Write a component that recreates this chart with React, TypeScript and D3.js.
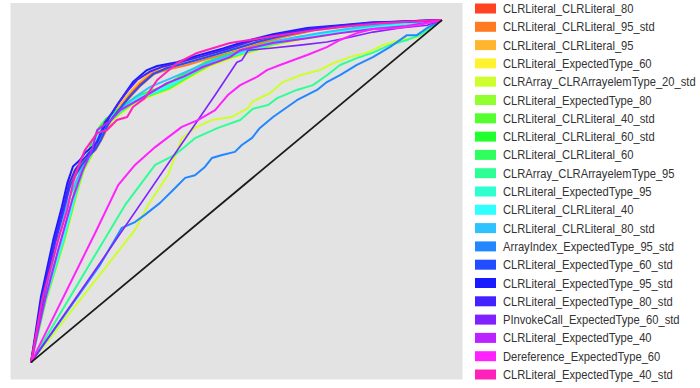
import React from 'react';
import * as d3 from 'd3';

// legend order = drawing order
const seriesNames = [
  'CLRLiteral_CLRLiteral_80',
  'CLRLiteral_CLRLiteral_95_std',
  'CLRLiteral_CLRLiteral_95',
  'CLRLiteral_ExpectedType_60',
  'CLRArray_CLRArrayelemType_20_std',
  'CLRLiteral_ExpectedType_80',
  'CLRLiteral_CLRLiteral_40_std',
  'CLRLiteral_CLRLiteral_60_std',
  'CLRLiteral_CLRLiteral_60',
  'CLRArray_CLRArrayelemType_95',
  'CLRLiteral_ExpectedType_95',
  'CLRLiteral_CLRLiteral_40',
  'CLRLiteral_CLRLiteral_80_std',
  'ArrayIndex_ExpectedType_95_std',
  'CLRLiteral_ExpectedType_60_std',
  'CLRLiteral_ExpectedType_95_std',
  'CLRLiteral_ExpectedType_80_std',
  'PInvokeCall_ExpectedType_60_std',
  'CLRLiteral_ExpectedType_40',
  'Dereference_ExpectedType_60',
  'CLRLiteral_ExpectedType_40_std',
];

const seriesColors = [
  '#FF4222', '#FF7B22', '#FFB62E', '#FFF22E', '#CDFF2E', '#92FF2E', '#55FF2E',
  '#22FF2E', '#2EFF5E', '#2EFF94', '#2EFFCF', '#2EFFFF', '#2EC2FF', '#2287FF',
  '#224CFF', '#1A1AFF', '#4422FF', '#7F22FF', '#BA22FF', '#FF22FF', '#FF22BA',
];

// [false positive rate, true positive rate]
const clrLit80 = [[0,0],[.028,.186],[.056,.348],[.078,.452],[.092,.518],[.107,.560],[.122,.582],[.138,.603],[.156,.625],[.170,.655],[.185,.695],[.202,.722],[.219,.752],[.241,.785],[.265,.815],[.297,.848],[.331,.862],[.375,.875],[.423,.892],[.484,.912],[.550,.936],[.606,.954],[.686,.973],[.776,.985],[.856,.993],[.950,.998],[1,1]];
const clrLit95std = [[0,0],[.029,.184],[.057,.346],[.079,.449],[.093,.515],[.108,.556],[.123,.580],[.140,.600],[.158,.622],[.172,.652],[.188,.690],[.205,.718],[.222,.748],[.245,.780],[.268,.810],[.300,.843],[.335,.856],[.380,.869],[.428,.886],[.489,.906],[.555,.931],[.611,.950],[.690,.970],[.780,.983],[.860,.992],[.952,.997],[1,1]];
const clrLit95 = [[0,0],[.027,.187],[.055,.350],[.077,.454],[.091,.520],[.106,.562],[.121,.584],[.137,.605],[.155,.627],[.169,.658],[.184,.698],[.201,.725],[.218,.755],[.240,.788],[.263,.818],[.295,.850],[.329,.864],[.373,.877],[.421,.894],[.482,.914],[.548,.938],[.604,.955],[.684,.974],[.774,.986],[.854,.994],[.949,.998],[1,1]];
const expType60 = [[0,0],[.036,.181],[.081,.352],[.115,.506],[.130,.565],[.147,.600],[.156,.634],[.173,.674],[.191,.698],[.215,.724],[.246,.752],[.272,.769],[.338,.798],[.394,.838],[.435,.865],[.491,.890],[.589,.926],[.662,.945],[.759,.963],[.838,.976],[.920,.989],[1,1]];
const arr20std = [[0,0],[.253,.387],[.285,.460],[.333,.547],[.367,.655],[.399,.685],[.440,.708],[.489,.717],[.528,.743],[.538,.761],[.582,.787],[.613,.819],[.655,.839],[.703,.854],[.735,.874],[.776,.892],[.818,.905],[.856,.927],[.898,.942],[.939,.950],[.971,.977],[1,1]];
const expType80 = [[0,0],[.033,.184],[.076,.360],[.111,.515],[.126,.573],[.142,.609],[.150,.643],[.167,.683],[.184,.708],[.208,.733],[.240,.760],[.264,.777],[.330,.807],[.384,.846],[.426,.872],[.482,.897],[.580,.932],[.652,.950],[.750,.966],[.830,.978],[.912,.990],[1,1]];
const clrLit40std = [[0,0],[.036,.180],[.080,.354],[.114,.508],[.129,.566],[.146,.602],[.155,.636],[.172,.676],[.190,.700],[.214,.726],[.245,.754],[.270,.771],[.336,.800],[.392,.840],[.433,.867],[.489,.892],[.587,.928],[.660,.946],[.757,.964],[.836,.977],[.918,.989],[1,1]];
const clrLit60std = [[0,0],[.032,.185],[.075,.362],[.110,.518],[.124,.575],[.139,.612],[.148,.645],[.165,.685],[.183,.712],[.207,.735],[.238,.762],[.263,.779],[.328,.810],[.380,.848],[.423,.876],[.479,.900],[.577,.934],[.650,.951],[.745,.967],[.825,.979],[.910,.991],[1,1]];
const clrLit60 = [[0,0],[.034,.182],[.078,.358],[.112,.512],[.127,.571],[.144,.606],[.151,.641],[.168,.680],[.185,.705],[.209,.730],[.241,.758],[.265,.775],[.331,.804],[.387,.843],[.428,.870],[.484,.895],[.582,.930],[.655,.948],[.752,.965],[.832,.978],[.915,.990],[1,1]];
const arr95 = [[0,0],[.156,.314],[.229,.460],[.302,.577],[.350,.606],[.399,.655],[.455,.685],[.509,.708],[.540,.741],[.577,.752],[.599,.772],[.647,.796],[.686,.810],[.720,.839],[.752,.869],[.793,.889],[.832,.905],[.873,.927],[.915,.942],[.946,.956],[1,1]];
const expType95 = [[0,0],[.035,.183],[.079,.356],[.113,.510],[.128,.569],[.145,.604],[.153,.639],[.170,.678],[.187,.703],[.211,.728],[.243,.756],[.268,.773],[.333,.802],[.389,.842],[.430,.869],[.486,.894],[.584,.929],[.657,.947],[.755,.965],[.834,.977],[.916,.989],[1,1]];
const clrLit40 = [[0,0],[.034,.183],[.077,.359],[.112,.513],[.127,.572],[.143,.607],[.152,.640],[.169,.681],[.186,.706],[.210,.731],[.242,.759],[.266,.776],[.332,.806],[.386,.845],[.427,.871],[.483,.896],[.581,.931],[.654,.949],[.751,.966],[.831,.978],[.913,.990],[1,1]];
const clrLit80std = [[0,0],[.031,.186],[.062,.340],[.090,.470],[.110,.530],[.127,.575],[.139,.605],[.156,.628],[.170,.660],[.187,.700],[.205,.722],[.226,.748],[.253,.775],[.290,.805],[.340,.830],[.395,.858],[.450,.885],[.520,.912],[.600,.940],[.700,.962],[.800,.980],[.900,.993],[1,1]];
const arrIdx95std = [[0,0],[.168,.285],[.221,.393],[.253,.410],[.277,.431],[.314,.466],[.350,.509],[.375,.539],[.399,.547],[.423,.571],[.440,.597],[.465,.606],[.496,.615],[.513,.635],[.538,.656],[.557,.685],[.589,.717],[.647,.766],[.696,.796],[.720,.819],[.752,.839],[.793,.869],[.832,.892],[.873,.921],[.915,.956],[.939,.956],[.964,.977],[1,1]];
const expType60std = [[0,0],[.030,.185],[.058,.345],[.080,.445],[.095,.515],[.110,.550],[.124,.578],[.139,.600],[.156,.622],[.170,.650],[.185,.690],[.200,.718],[.219,.745],[.241,.778],[.265,.808],[.297,.842],[.331,.860],[.375,.874],[.423,.890],[.484,.912],[.550,.936],[.606,.953],[.686,.972],[.776,.984],[.856,.992],[.950,.998],[1,1]];
const expType95std = [[0,0],[.024,.191],[.054,.358],[.075,.455],[.088,.523],[.102,.572],[.119,.591],[.131,.612],[.148,.629],[.161,.644],[.175,.681],[.192,.720],[.209,.751],[.229,.786],[.248,.819],[.282,.854],[.307,.866],[.355,.877],[.404,.896],[.467,.917],[.533,.942],[.589,.959],[.672,.977],[.752,.985],[.832,.994],[.946,.997],[1,1]];
const expType80std = [[0,0],[.027,.188],[.056,.350],[.078,.450],[.092,.520],[.107,.562],[.121,.585],[.136,.605],[.153,.626],[.166,.660],[.180,.702],[.197,.728],[.214,.760],[.236,.795],[.258,.825],[.290,.850],[.320,.864],[.365,.878],[.415,.894],[.475,.915],[.540,.940],[.600,.957],[.680,.975],[.765,.985],[.845,.993],[.948,.998],[1,1]];
const pinvoke60std = [[0,0],[.173,.299],[.448,.781],[.501,.877],[.513,.883],[.521,.898],[.528,.912],[.582,.918],[.655,.927],[.720,.936],[.776,.950],[.832,.965],[.898,.977],[.964,.985],[1,1]];
const expType40 = [[0,0],[.034,.182],[.066,.328],[.100,.474],[.124,.556],[.148,.620],[.161,.679],[.192,.705],[.217,.737],[.273,.775],[.331,.816],[.370,.834],[.418,.863],[.484,.892],[.509,.912],[.589,.933],[.672,.947],[.752,.962],[.832,.974],[.915,.983],[1,1]];
const deref60 = [[0,0],[.156,.378],[.212,.518],[.253,.577],[.302,.629],[.367,.688],[.406,.708],[.448,.737],[.479,.781],[.509,.810],[.550,.834],[.574,.854],[.606,.869],[.672,.898],[.720,.921],[.752,.942],[.793,.962],[.832,.974],[.891,.977],[.939,.985],[1,1]];
const expType40std = [[0,0],[.027,.182],[.066,.358],[.088,.445],[.102,.524],[.119,.585],[.131,.620],[.161,.670],[.185,.679],[.209,.708],[.234,.717],[.248,.746],[.277,.772],[.307,.825],[.355,.874],[.404,.904],[.484,.933],[.589,.953],[.686,.970],[.752,.980],[.849,.991],[1,1]];

const seriesData = [
  clrLit80, clrLit95std, clrLit95, expType60, arr20std, expType80, clrLit40std,
  clrLit60std, clrLit60, arr95, expType95, clrLit40, clrLit80std, arrIdx95std,
  expType60std, expType95std, expType80std, pinvoke60std, expType40, deref60, expType40std,
];

const chance = [[0, 0], [1, 1]];

const W = 700;
const H = 388;
const panel = { left: 10.5, right: 462.5, top: 3, bottom: 379.5 };

export default function App() {
  // ggplot-style 5% expansion around [0, 1]
  const x = d3.scaleLinear().domain([-0.05, 1.05]).range([panel.left, panel.right]);
  const y = d3.scaleLinear().domain([-0.05, 1.05]).range([panel.bottom, panel.top]);
  const line = d3.line<number[]>().x(d => x(d[0])).y(d => y(d[1]));

  const legendX = 475;
  const legendY0 = 8.5;
  const legendStep = 18.3;

  return (
    <svg width={W} height={H} style={{ position: 'absolute', left: 0, top: 0, background: '#fff' }}>
      <rect x={panel.left} y={panel.top} width={panel.right - panel.left} height={panel.bottom - panel.top} fill="#E3E3E3" />
      {seriesData.map((d, i) => (
        <path key={i} d={line(d) || ''} fill="none" stroke={seriesColors[i]}
          strokeWidth={i === 17 ? 1.6 : 2} strokeLinejoin="round" />
      ))}
      <path d={line(chance) || ''} fill="none" stroke="#1a1a1a" strokeWidth={1.8} />
      <g fontFamily="'Liberation Sans', Arial, sans-serif" fontSize={11.2} fill="#333">
        {seriesNames.map((name, i) => (
          <g key={name} transform={`translate(${legendX},${legendY0 + i * legendStep})`}>
            <rect x={0} y={-5} width={21} height={10} fill={seriesColors[i]} />
            <text x={28} y={0} dy="0.36em" transform="scale(1,1.12)">{name}</text>
          </g>
        ))}
      </g>
    </svg>
  );
}
